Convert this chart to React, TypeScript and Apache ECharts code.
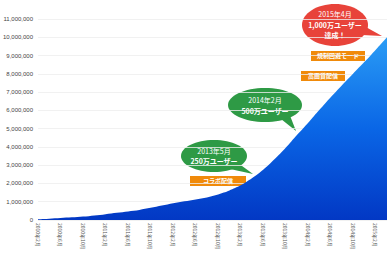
import React, { useEffect, useRef } from "react";
import * as echarts from "echarts";

const months: string[] = [];
for (let y = 2010; y <= 2015; y++) {
  for (let m = 1; m <= 12; m++) {
    if ((y === 2010 && m < 2) || (y === 2015 && m > 4)) continue;
    months.push(`${y}年${m}月`);
  }
}

// users in millions
const usersMillions = [
  0.03, 0.05, 0.07, 0.09, 0.11, 0.13, 0.15, 0.17, 0.19, 0.21,
  0.24, 0.27, 0.31, 0.35, 0.39, 0.43, 0.47, 0.51, 0.55, 0.61,
  0.67, 0.73, 0.79, 0.85, 0.91, 0.97, 1.02, 1.07, 1.12, 1.17,
  1.23, 1.31, 1.4, 1.5, 1.62, 1.75, 1.9, 2.08, 2.28, 2.5,
  2.75, 3.02, 3.32, 3.62, 3.95, 4.3, 4.65, 4.98, 5.32, 5.68,
  6.03, 6.38, 6.72, 7.05, 7.38, 7.7, 8.02, 8.34, 8.66, 8.98,
  9.32, 9.66, 10.0,
];
const users = usersMillions.map((v) => Math.round(v * 1000000));

const bubbles = [
  { lines: ["2013年5月", "250万ユーザー"], color: "#2e9a45" },
  { lines: ["2014年2月", "500万ユーザー"], color: "#2e9a45" },
  { lines: ["2015年4月", "1,000万ユーザー", "達成！"], color: "#e8433a" },
];
const events = ["コラボ配信", "高画質配信", "規制回避モード"];

const JP = '"Noto Sans CJK JP", "Noto Sans", sans-serif';

function bubble(
  b: { lines: string[]; color: string },
  cx: number, cy: number, rx: number, ry: number,
  tail: number[][], lineYs: number[]
) {
  const children: any[] = [
    { type: "polygon", shape: { points: tail }, style: { fill: b.color } },
    { type: "ellipse", shape: { cx, cy, rx, ry }, style: { fill: b.color } },
  ];
  b.lines.forEach((t, i) => {
    children.push({
      type: "text",
      x: cx,
      y: lineYs[i],
      style: {
        text: t,
        fill: "#fff",
        fontSize: 7,
        fontWeight: i === 0 ? "normal" : "bold",
        fontFamily: JP,
        align: "center",
        verticalAlign: "middle",
      },
    });
  });
  return { type: "group", children };
}

function box(t: string, x: number, y: number, w: number, h: number) {
  return {
    type: "group",
    children: [
      { type: "rect", shape: { x, y, width: w, height: h }, style: { fill: "#f08a0a" } },
      {
        type: "text",
        x: x + w / 2,
        y: y + h / 2 - 0.5,
        style: {
          text: t,
          fill: "#fff",
          fontSize: 6,
          fontWeight: "bold",
          fontFamily: JP,
          align: "center",
          verticalAlign: "middle",
        },
      },
    ],
  };
}

export default function App() {
  const ref = useRef<HTMLDivElement>(null);
  useEffect(() => {
    if (!ref.current) return;
    const chart = echarts.init(ref.current, null, { renderer: "svg" });
    chart.setOption({
      animation: false,
      backgroundColor: "#fff",
      grid: { left: 37, right: 3, top: 19, bottom: 39 },
      xAxis: {
        type: "category",
        data: months,
        boundaryGap: false,
        axisLine: { show: false },
        axisTick: { show: false },
        axisLabel: {
          interval: 3,
          rotate: -90,
          fontSize: 5,
          color: "#555",
          fontFamily: JP,
          margin: 3,
        },
      },
      yAxis: {
        type: "value",
        min: 0,
        max: 11000000,
        interval: 1000000,
        axisLine: { show: false },
        axisTick: { show: false },
        splitLine: { lineStyle: { color: "#eeeeee", width: 0.8 } },
        axisLabel: {
          fontSize: 6,
          color: "#444",
          fontFamily: "Liberation Sans, sans-serif",
          margin: 5,
          formatter: (v: number) => v.toLocaleString("en-US"),
        },
      },
      series: [
        {
          type: "line",
          data: users,
          symbol: "none",
          smooth: 0.3,
          lineStyle: { width: 0 },
          areaStyle: {
            opacity: 1,
            color: new echarts.graphic.LinearGradient(0, 0, 0, 1, [
              { offset: 0, color: "#2a9cf5" },
              { offset: 0.5, color: "#0a66e6" },
              { offset: 1, color: "#0238c4" },
            ]),
          },
        },
      ],
      graphic: [
        box(events[0], 190, 176, 56, 10),
        box(events[1], 301, 71, 44, 10),
        box(events[2], 311, 51, 54, 10),
        bubble(bubbles[0], 214, 156, 33, 16, [[238, 163], [230, 169], [253, 174]], [151, 161]),
        bubble(bubbles[1], 265, 105, 37, 17, [[289, 113], [281, 119], [296, 131]], [100, 111]),
        bubble(bubbles[2], 335, 25, 33, 21, [[364, 26], [362, 35], [382, 36]], [14, 24.5, 35]),
      ],
    });
    return () => chart.dispose();
  }, []);
  return (
    <div
      ref={ref}
      style={{ position: "fixed", left: 0, top: 0, width: 390, height: 259 }}
    />
  );
}
